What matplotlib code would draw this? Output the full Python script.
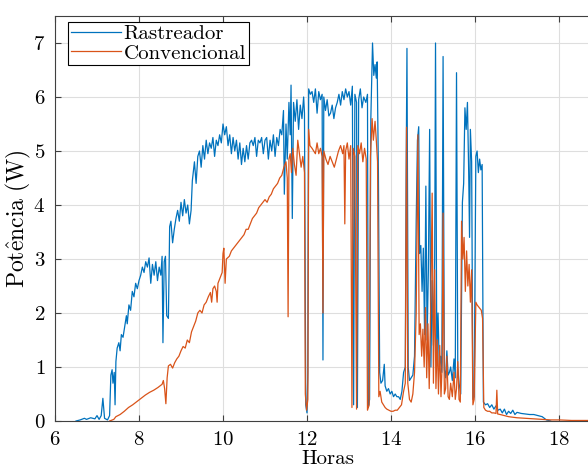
import matplotlib
matplotlib.use("Agg")
import matplotlib.pyplot as plt

# Rastreador (tracker) - hours, power (W)
rast_t = [6.50, 6.60, 6.70, 6.75, 6.85, 6.95, 7.00, 7.05, 7.10, 7.14, 7.18, 7.25, 7.30, 7.33,
          7.36, 7.38, 7.41, 7.43, 7.45, 7.48, 7.52, 7.55, 7.58, 7.62, 7.66, 7.70, 7.72, 7.76,
          7.80, 7.84, 7.88, 7.92, 7.96, 8.00, 8.04, 8.08, 8.12, 8.16, 8.20, 8.24, 8.28, 8.32,
          8.36, 8.40, 8.44, 8.48, 8.52, 8.55, 8.57, 8.60, 8.63, 8.66, 8.70, 8.73, 8.76, 8.80,
          8.84, 8.88, 8.92, 8.96, 9.00, 9.04, 9.08, 9.12, 9.16, 9.20, 9.24, 9.27, 9.32, 9.36,
          9.40, 9.44, 9.48, 9.52, 9.56, 9.60, 9.64, 9.68, 9.72, 9.76, 9.80, 9.84, 9.88, 9.92,
          9.96, 10.00, 10.04, 10.08, 10.12, 10.16, 10.20, 10.24, 10.28, 10.32, 10.36, 10.40,
          10.44, 10.48, 10.52, 10.56, 10.60, 10.64, 10.68, 10.72, 10.76, 10.80, 10.84, 10.88,
          10.92, 10.96, 11.00, 11.04, 11.08, 11.12, 11.16, 11.20, 11.24, 11.28, 11.32, 11.36,
          11.40, 11.44, 11.46, 11.50, 11.53, 11.57, 11.60, 11.62, 11.65, 11.68, 11.72, 11.76,
          11.80, 11.84, 11.88, 11.92, 11.94, 11.97, 12.00, 12.02, 12.04, 12.08, 12.12, 12.16,
          12.20, 12.24, 12.28, 12.32, 12.36, 12.38, 12.40, 12.44, 12.48, 12.52, 12.56, 12.60,
          12.64, 12.68, 12.72, 12.76, 12.80, 12.84, 12.88, 12.92, 12.96, 13.00, 13.04, 13.08,
          13.11, 13.14, 13.18, 13.20, 13.23, 13.27, 13.31, 13.35, 13.40, 13.44, 13.46, 13.49,
          13.52, 13.56, 13.59, 13.62, 13.65, 13.67, 13.70, 13.73, 13.76, 13.80, 13.84, 13.86,
          13.90, 13.94, 13.98, 14.02, 14.06, 14.10, 14.14, 14.18, 14.22, 14.26, 14.30, 14.34,
          14.36, 14.38, 14.41, 14.44, 14.48, 14.52, 14.56, 14.60, 14.63, 14.66, 14.68, 14.71,
          14.74, 14.77, 14.80, 14.83, 14.86, 14.89, 14.92, 14.95, 14.98, 15.01, 15.04, 15.06,
          15.09, 15.12, 15.15, 15.18, 15.21, 15.24, 15.27, 15.30, 15.33, 15.36, 15.39, 15.42,
          15.46, 15.50, 15.53, 15.56, 15.59, 15.62, 15.66, 15.70, 15.73, 15.76, 15.79, 15.82,
          15.85, 15.87, 15.89, 15.92, 15.95, 15.98, 16.02, 16.05, 16.08, 16.11, 16.14, 16.17,
          16.20, 16.25, 16.30, 16.35, 16.40, 16.45, 16.50, 16.55, 16.60, 16.65, 16.70, 16.75,
          16.80, 16.85, 16.90, 16.95, 17.00, 17.10, 17.20, 17.30, 17.40, 17.50, 17.60, 17.70,
          17.80]
rast_p = [0.00, 0.02, 0.05, 0.03, 0.06, 0.04, 0.10, 0.03, 0.10, 0.42, 0.05, 0.02, 0.10, 0.85,
          0.95, 0.70, 0.90, 0.30, 1.10, 1.35, 1.45, 1.30, 1.60, 1.55, 1.75, 1.95, 1.80, 2.15,
          2.05, 2.40, 2.30, 2.55, 2.45, 2.60, 2.70, 2.85, 2.75, 2.95, 2.85, 3.02, 2.55, 2.90,
          2.70, 2.95, 2.60, 2.85, 2.70, 3.05, 1.45, 2.95, 3.05, 1.95, 1.90, 3.60, 3.70, 3.30,
          3.55, 3.75, 3.90, 3.70, 4.05, 3.80, 4.10, 3.85, 4.00, 3.65, 3.90, 4.45, 4.80, 4.40,
          4.90, 5.00, 4.70, 5.10, 4.85, 5.20, 4.95, 5.15, 5.05, 5.25, 4.90, 5.20, 5.10, 5.30,
          5.15, 5.50, 5.30, 5.45, 5.10, 5.30, 4.95, 5.25, 5.00, 5.20, 4.85, 5.15,
          4.75, 5.05, 4.80, 5.10, 4.85, 5.15, 5.20, 5.10, 5.25, 4.90, 5.20, 5.15,
          5.25, 4.95, 5.20, 5.25, 4.85, 5.20, 5.00, 5.30, 4.90, 5.25, 5.10, 5.40,
          5.30, 5.75, 4.20, 5.50, 4.85, 5.90, 5.30, 6.22, 3.75, 5.90, 5.55, 5.95,
          5.40, 5.85, 5.60, 6.00, 5.70, 0.30, 0.15, 0.90, 6.15, 6.05, 6.10, 5.90,
          6.15, 5.70, 6.10, 5.95, 6.05, 1.13, 6.00, 5.75, 5.95, 5.65, 5.70, 5.85,
          5.60, 5.80, 5.90, 6.05, 5.85, 6.10, 5.95, 6.15, 6.00, 6.10, 5.85, 6.20,
          0.30, 6.05, 5.90, 0.25, 5.95, 6.15, 5.80, 6.00, 5.90, 6.05, 0.25, 0.40,
          5.60, 7.00, 6.40, 6.60, 6.35, 6.65, 4.60, 0.90, 0.70, 0.75, 1.05, 0.65,
          0.55, 0.60, 0.50, 0.55, 0.45, 0.50, 0.45, 0.45, 0.40, 0.55, 0.90, 1.00,
          4.50, 6.90, 1.00, 0.75, 0.80, 0.85, 1.20, 3.70, 5.20, 5.45, 3.10, 3.25,
          2.40, 3.20, 1.60, 4.35, 1.50, 2.80, 5.40, 1.00, 2.60, 1.40, 3.00, 7.00,
          1.20, 2.00, 1.00, 1.20, 0.90, 6.75, 0.95, 0.80, 1.30, 0.85, 0.90, 1.00,
          0.75, 1.15, 0.80, 6.45, 1.00, 0.70, 0.50, 4.05, 4.40, 5.80, 5.40, 5.90,
          4.60, 3.40, 5.40, 4.80, 0.40, 0.45, 4.90, 5.00, 4.60, 4.85, 4.65, 4.75,
          0.35, 0.30, 0.32, 0.25, 0.30, 0.22, 0.28, 0.20, 0.22, 0.15, 0.22, 0.12,
          0.18, 0.14, 0.20, 0.12, 0.16, 0.14, 0.13, 0.12, 0.12, 0.10, 0.08, 0.02,
          0.00]

# Convencional (fixed panel)
conv_t = [7.30, 7.40, 7.45, 7.55, 7.65, 7.75, 7.85, 7.95, 8.05, 8.15, 8.25, 8.35, 8.45, 8.55,
          8.58, 8.61, 8.64, 8.67, 8.70, 8.75, 8.80, 8.85, 8.90, 8.95, 9.00, 9.05, 9.10, 9.15,
          9.20, 9.25, 9.30, 9.35, 9.40, 9.45, 9.50, 9.55, 9.60, 9.65, 9.70, 9.73, 9.76, 9.80,
          9.84, 9.86, 9.88, 9.93, 9.98, 10.00, 10.02, 10.05, 10.08, 10.15, 10.20, 10.25, 10.30,
          10.35, 10.40, 10.45, 10.50, 10.55, 10.60, 10.65, 10.70, 10.75, 10.80, 10.85, 10.90,
          10.95, 11.00, 11.05, 11.10, 11.15, 11.20, 11.25, 11.30, 11.35, 11.40, 11.45, 11.50,
          11.53, 11.55, 11.57, 11.60, 11.63, 11.66, 11.70, 11.74, 11.78, 11.82, 11.86, 11.90,
          11.94, 11.96, 11.99, 12.02, 12.04, 12.07, 12.12, 12.16, 12.20, 12.24, 12.28, 12.32,
          12.36, 12.38, 12.40, 12.45, 12.50, 12.55, 12.60, 12.65, 12.70, 12.75, 12.80, 12.85,
          12.88, 12.90, 12.92, 12.96, 13.00, 13.04, 13.07, 13.10, 13.14, 13.18, 13.21, 13.25,
          13.29, 13.33, 13.37, 13.41, 13.44, 13.48, 13.51, 13.55, 13.58, 13.62, 13.65, 13.68,
          13.71, 13.74, 13.78, 13.82, 13.86, 13.90, 13.95, 14.00, 14.05, 14.10, 14.15, 14.20,
          14.25, 14.30, 14.34, 14.37, 14.40, 14.44, 14.48, 14.52, 14.56, 14.60, 14.64, 14.67,
          14.70, 14.73, 14.76, 14.79, 14.82, 14.85, 14.88, 14.91, 14.95, 14.98, 15.01, 15.04,
          15.07, 15.10, 15.13, 15.16, 15.19, 15.22, 15.24, 15.27, 15.30, 15.33, 15.36, 15.39,
          15.42, 15.46, 15.50, 15.53, 15.56, 15.59, 15.62, 15.65, 15.68, 15.71, 15.74, 15.77,
          15.80, 15.83, 15.86, 15.89, 15.92, 15.95, 15.98, 16.02, 16.05, 16.10, 16.15, 16.18,
          16.21, 16.25, 16.30, 16.35, 16.40, 16.45, 16.50, 16.52, 16.54, 16.60, 16.70, 16.80,
          16.90, 17.00, 17.20, 17.40, 17.60, 17.80, 18.00, 18.30, 18.70]
conv_p = [0.00, 0.03, 0.08, 0.12, 0.18, 0.25, 0.30, 0.36, 0.42, 0.48, 0.53, 0.57, 0.62, 0.68,
          0.75, 0.60, 0.32, 0.80, 1.02, 1.05, 0.98, 1.08, 1.15, 1.20, 1.30, 1.38, 1.35, 1.50,
          1.45, 1.65, 1.75, 1.85, 2.00, 2.05, 2.00, 2.15, 2.20, 2.30, 2.38, 2.20, 2.45, 2.50,
          2.40, 2.20, 2.55, 2.65, 2.75, 3.10, 3.20, 2.55, 3.00, 3.05, 3.15, 3.20, 3.25,
          3.30, 3.35, 3.40, 3.45, 3.55, 3.55, 3.65, 3.75, 3.80, 3.85, 3.95, 4.00,
          4.05, 4.10, 4.05, 4.15, 4.20, 4.30, 4.35, 4.40, 4.50, 4.55, 4.70, 4.80,
          4.50, 1.93, 4.85, 4.95, 4.60, 5.05, 4.75, 4.55, 5.20, 4.95, 4.70, 4.90,
          4.60, 0.50, 0.20, 0.40, 5.40, 5.10, 5.05, 5.00, 4.95, 5.15, 4.95, 5.05,
          4.90, 2.00, 5.00, 4.85, 4.75, 4.90, 4.80, 4.70, 4.85, 5.00, 5.10, 4.95,
          5.10, 3.65, 5.00, 5.15, 4.85, 5.10, 0.25, 5.05, 4.90, 0.22, 5.10, 4.95,
          5.15, 4.80, 5.05, 4.85, 0.20, 0.30, 4.90, 5.60, 5.20, 5.55, 5.20, 4.80,
          0.45, 0.55, 0.35, 0.30, 0.25, 0.22, 0.20, 0.18, 0.18, 0.20, 0.20, 0.25,
          0.30, 0.55, 0.70, 5.44, 0.70, 0.40, 0.35, 0.50, 0.90, 2.00, 5.30, 1.60,
          1.80, 1.20, 1.70, 1.00, 2.10, 0.80, 1.80, 0.60, 2.30, 4.22, 0.70, 2.80,
          0.60, 1.50, 0.50, 1.40, 0.45, 1.10, 3.85, 0.50, 0.60, 1.20, 0.45, 0.40,
          0.70, 0.45, 0.90, 0.40, 0.60, 1.10, 0.40, 0.35, 3.70, 3.00, 3.40, 2.40,
          3.15, 2.50, 2.90, 2.20, 2.80, 0.30, 0.40, 2.20, 2.15, 2.10, 2.05, 1.90,
          0.25, 0.20, 0.18, 0.18, 0.15, 0.15, 0.14, 0.57, 0.13, 0.12, 0.10, 0.08,
          0.07, 0.06, 0.05, 0.04, 0.03, 0.02, 0.02, 0.01, 0.01]

plt.rcParams['font.family'] = 'cmr10'
plt.rcParams['mathtext.fontset'] = 'cm'
plt.rcParams['axes.formatter.use_mathtext'] = True

fig = plt.figure(figsize=(5.88, 4.69), dpi=100)
ax = fig.add_axes([55 / 588, 48 / 469, 546 / 588, 405 / 469])

ax.plot(rast_t, rast_p, color='#0072BD', lw=0.9, label='Rastreador')
ax.plot(conv_t, conv_p, color='#D95319', lw=0.9, label='Convencional')

ax.set_xlim(6, 19)
ax.set_ylim(0, 7.5)
ax.set_xticks([6, 8, 10, 12, 14, 16, 18])
ax.set_yticks([0, 1, 2, 3, 4, 5, 6, 7])
ax.grid(True, color='#dedede', lw=0.8)
ax.set_axisbelow(True)
ax.tick_params(direction='in', top=True, right=True, labelsize=15, pad=7,
               color='#404040', length=4)
for s in ax.spines.values():
    s.set_color('#404040')
    s.set_linewidth(0.8)

ax.set_xlabel('Horas', fontsize=15, labelpad=1)
ax.set_ylabel(r'$\mathrm{Pot\hat{e}ncia\ (W)}$', fontsize=17, labelpad=0)

leg = ax.legend(loc='upper left', bbox_to_anchor=(13 / 546, 1 - 6 / 405),
                fontsize=15, fancybox=False, framealpha=1,
                edgecolor='black', borderaxespad=0, borderpad=0.12,
                handlelength=2.4, handletextpad=0.15, labelspacing=0.05)
leg.get_frame().set_linewidth(0.8)

fig.savefig('out.png', dpi=100)
